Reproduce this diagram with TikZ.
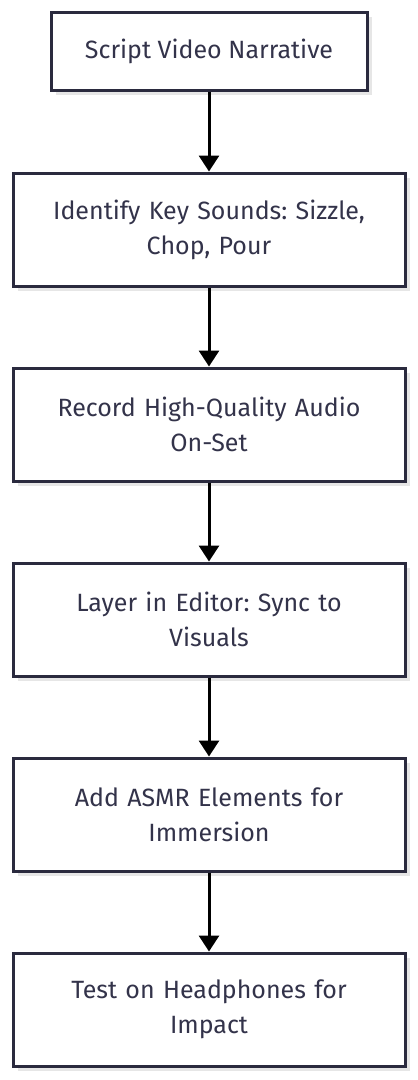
\documentclass[tikz,border=0pt]{standalone}
\usepackage{fontspec}
\setmainfont{Fira Sans}
\frenchspacing
\usetikzlibrary{arrows.meta}
\definecolor{boxline}{HTML}{2A2A3E}
\definecolor{txt}{HTML}{33334A}
\definecolor{shad}{HTML}{E6E6E6}
\tikzset{
  stepbox/.style={draw=boxline, line width=3pt, fill=white, align=center, text=txt,
    font=\fontsize{25}{35}\selectfont, minimum height=113pt, inner sep=0pt},
  flow/.style={line width=3pt, draw=black, -{Triangle[length=16pt,width=20pt]}}
}
\begin{document}
\begin{tikzpicture}[x=1pt,y=-1pt]
\useasboundingbox (0,0) rectangle (418,1080);
% shadows
\fill[shad] (56,17) rectangle (372,95);
\foreach \y in {173,368,563,758,953}{
  \fill[shad] (18,\y+5) rectangle (410,\y+118);
}
\node[stepbox, minimum width=316pt, minimum height=78pt] (n1) at (209,51) {Script Video Narrative};
\node[stepbox, minimum width=392pt, text width=380pt] (n2) at (209,229.5) {Identify Key Sounds: Sizzle,\\Chop, Pour};
\node[stepbox, minimum width=392pt, text width=380pt] (n3) at (209,424.5) {Record High-Quality Audio\\On-Set};
\node[stepbox, minimum width=392pt, text width=380pt] (n4) at (209,619.5) {Layer in Editor: Sync to\\Visuals};
\node[stepbox, minimum width=392pt, text width=380pt] (n5) at (209,814.5) {Add ASMR Elements for\\Immersion};
\node[stepbox, minimum width=392pt, text width=380pt] (n6) at (209,1009.5) {Test on Headphones for\\Impact};
\draw[flow] (n1) -- (n2);
\draw[flow] (n2) -- (n3);
\draw[flow] (n3) -- (n4);
\draw[flow] (n4) -- (n5);
\draw[flow] (n5) -- (n6);
\end{tikzpicture}
\end{document}
